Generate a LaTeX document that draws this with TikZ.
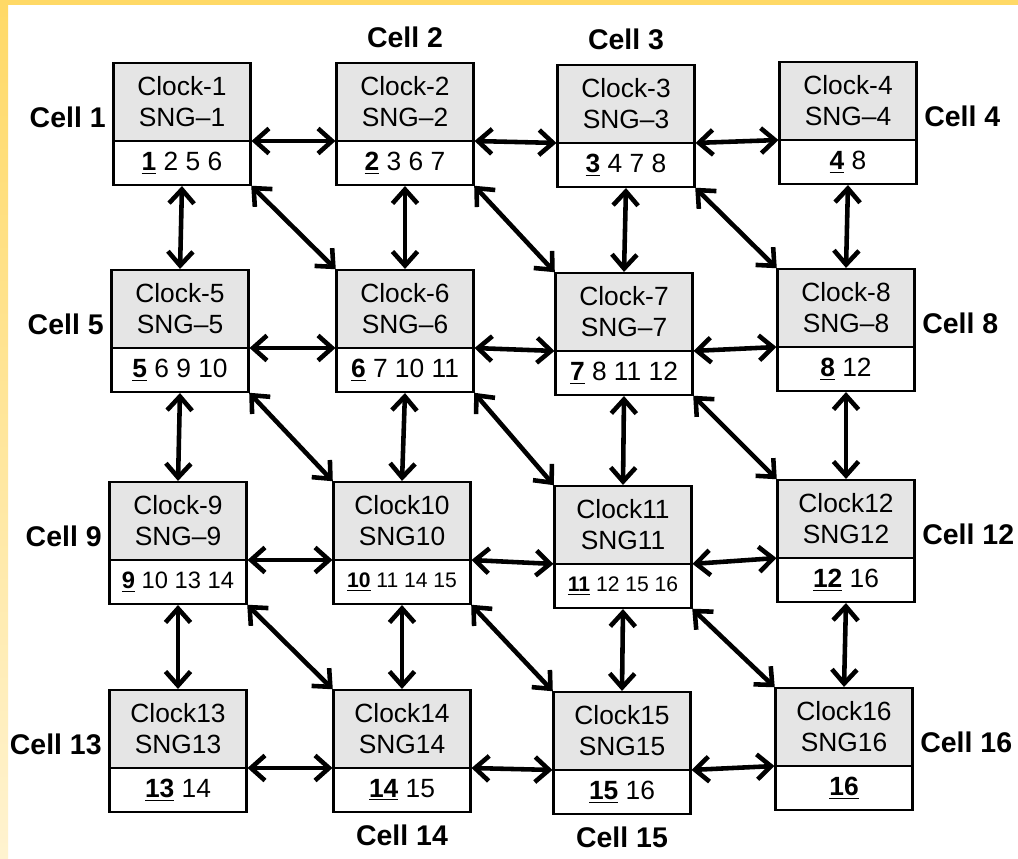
\documentclass[tikz,border=0pt]{standalone}
\usepackage{fontspec}
\setmainfont{Liberation Sans}
\usetikzlibrary{positioning,arrows.meta}
\definecolor{edgeyellow}{RGB}{255,217,102}
\definecolor{edgepale}{RGB}{255,243,208}
\newcommand{\own}[1]{\underline{\textbf{#1}}}

\begin{document}
\begin{tikzpicture}[x=0.02cm,y=-0.02cm,>={Straight Barb[length=2.8mm,width=5mm]}]
  \tikzset{
    clk/.style={draw,line width=1.3pt,fill=gray!20,minimum width=2.74cm,minimum height=1.56cm,
      inner sep=1pt,outer sep=0pt,align=center,anchor=north,font=\fontsize{15}{17.6}\selectfont},
    lst/.style={draw,line width=1.3pt,fill=white,minimum width=2.74cm,minimum height=0.88cm,
      inner sep=1pt,outer sep=0pt,font=\fontsize{15}{18}\selectfont},
    cell/.style={font=\bfseries\fontsize{16.2}{19}\selectfont,inner sep=0pt},
    link/.style={<->,line width=2.6pt,shorten <=0.6pt,shorten >=0.6pt}
  }
  % Page, with the yellow edges at the top and on the left.
  \useasboundingbox (0,0) rectangle (1018,859);
  \fill[white] (0,0) rectangle (1018,859);
  \shade[top color=edgeyellow,bottom color=edgepale] (0,0) rectangle (8,859);
  \fill[edgeyellow] (0,0) rectangle (1018,5);
  % Cells: top of each box, and the list of cells it talks to.
  \foreach \n/\x/\y/\clk/\sng/\nums in {
      1/182/63/Clock-1/SNG–1/{\own{1} 2 5 6},
      2/405/63/Clock-2/SNG–2/{\own{2} 3 6 7},
      3/626/65/Clock-3/SNG–3/{\own{3} 4 7 8},
      4/848/62/Clock-4/SNG–4/{\own{4} 8},
      5/180/270/Clock-5/SNG–5/{\own{5} 6 9 10},
      6/405/270/Clock-6/SNG–6/{\own{6} 7 10 11},
      7/624/273/Clock-7/SNG–7/{\own{7} 8 11 12},
      8/846/269/Clock-8/SNG–8/{\own{8} 12},
      9/178/482/Clock-9/SNG–9/{\fontsize{13.5}{16}\selectfont\own{9} 10 13 14},
      10/402/482/Clock10/SNG10/{\fontsize{12}{15}\selectfont\own{10} 11 14 15},
      11/623/486/Clock11/SNG11/{\fontsize{12}{15}\selectfont\own{11} 12 15 16},
      12/846/480/Clock12/SNG12/{\own{12} 16},
      13/178/690/Clock13/SNG13/{\own{13} 14},
      14/402/690/Clock14/SNG14/{\own{14} 15},
      15/622/692/Clock15/SNG15/{\own{15} 16},
      16/844/688/Clock16/SNG16/{\own{16}}}
  {
    \node[clk] (c\n) at (\x,\y) {\clk\\\sng};
    \node[lst,below=0pt of c\n] (n\n) {\nums};
  }
  % Links to the right neighbour, on the divider line.
  \foreach \a/\b in {1/2,2/3,3/4,5/6,6/7,7/8,9/10,10/11,11/12,13/14,14/15,15/16}
    \draw[link] (c\a.south east) -- (c\b.south west);
  % Links to the cell below.
  \foreach \a in {1,...,12} {
    \pgfmathtruncatemacro{\b}{\a+4}
    \draw[link] (n\a.south) -- (c\b.north);
  }
  % Diagonal links, corner to corner.
  \foreach \a in {1,2,3,5,6,7,9,10,11} {
    \pgfmathtruncatemacro{\b}{\a+5}
    \draw[link] (n\a.south east) -- (c\b.north west);
  }
  % Cell names.
  \foreach \n/\side in {1/left,4/right,5/left,8/right,9/left,12/right,13/left,16/right}
    \node[cell,\side=0.15cm of c\n,yshift=-0.3cm] (l\n) {Cell \n};
  \foreach \n in {2,3}
    \node[cell,above=0.3cm of c\n] (l\n) {Cell \n};
  \foreach \n in {14,15}
    \node[cell,below=0.26cm of n\n] (l\n) {Cell \n};
\end{tikzpicture}
\end{document}
